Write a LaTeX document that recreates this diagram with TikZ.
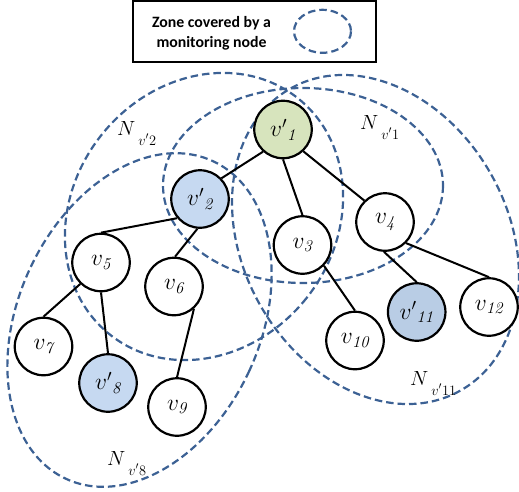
\RequirePackage{fix-cm}
\documentclass[tikz,border=0pt]{standalone}
\usepackage{fontspec}
\newfontfamily\legendfont{Carlito}
\definecolor{zonecol}{RGB}{60,97,148}
\definecolor{greenfill}{RGB}{215,228,189}
\definecolor{bluefill}{RGB}{198,217,241}
\definecolor{bluefilldark}{RGB}{185,205,229}
\begin{document}
\begin{tikzpicture}[x=1pt,y=-1pt,
  vnode/.style={circle,draw,line width=2.2pt,minimum size=57.5pt,inner sep=0pt,fill=white,font=\fontsize{23.5}{27}\selectfont},
  zone/.style={draw=zonecol,line width=2.2pt,dash pattern=on 7.5pt off 4pt},
  edge/.style={line width=2pt},
  zlabel/.style={anchor=base west,inner sep=0pt,font=\fontsize{20.5}{24}\selectfont}]
\useasboundingbox (0,0) rectangle (519,491);
% legend
\node[draw,line width=1.8pt,minimum width=243pt,minimum height=61pt,inner sep=0pt] (legend) at (254.7,31.8) {};
\node[font=\legendfont\bfseries\fontsize{15.8}{19.5}\selectfont,align=center,inner sep=0pt] (legtxt) at (211.5,33.5) {Zone covered by a\\monitoring node};
\draw[zone] (322.5,31.3) ellipse [x radius=28.5, y radius=21.5];
% zones
\draw[zone] (303,185.5) ellipse [x radius=140, y radius=97.5];
\draw[zone, rotate around={-38.5:(204,216.5)}] (204,216.5) ellipse [x radius=131, y radius=151];
\draw[zone, rotate around={-24.8:(139.5,320)}] (139.5,320) ellipse [x radius=121, y radius=175];
\draw[zone, rotate around={29.3:(375.5,239.5)}] (375.5,239.5) ellipse [x radius=132.7, y radius=173.3];
% nodes
\node[vnode,fill=greenfill] (n1) at (283,129.5) {$v'{}_{\mathit{1}}$};
\node[vnode,fill=bluefill] (n2) at (200,199) {$v'{}_{\mathit{2}}$};
\node[vnode] (n3) at (302.5,245) {$v_{\mathit{3}}$};
\node[vnode] (n4) at (385,222) {$v_{\mathit{4}}$};
\node[vnode] (n5) at (101,262.5) {$v_{\mathit{5}}$};
\node[vnode] (n6) at (174,286.5) {$v_{\mathit{6}}$};
\node[vnode] (n7) at (43.5,346.5) {$v_{\mathit{7}}$};
\node[vnode,fill=bluefill] (n8) at (108,383) {$v'{}_{\mathit{8}}$};
\node[vnode] (n9) at (177,407) {$v_{\mathit{9}}$};
\node[vnode] (n10) at (355,340.5) {$v_{\mathit{10}}$};
\node[vnode,fill=bluefilldark] (n11) at (416.7,312) {$v'{}_{\mathit{11}}$};
\node[vnode] (n12) at (489,307) {$v_{\mathit{12}}$};
% edges
\draw[edge] (n1.228) -- (n2.44);
\draw[edge] (n1.south) -- (n3.north);
\draw[edge] (n1.-47) -- (n4.134);
\draw[edge] (n2.220) -- (n5.north);
\draw[edge] (n2.265) -- (n6.88);
\draw[edge] (n4.268) -- (n11.north);
\draw[edge] (n4.-45) -- (n12.north);
\draw[edge] (n3.-44) -- (n10.north);
\draw[edge] (n5.-134) -- (n7.north);
\draw[edge] (n5.south) -- (n8.north);
\draw[edge] (n6.-48) -- (n9.north);
% zone labels
\node[zlabel] (lab2) at (117,135) {$N\kern3pt\lower10pt\hbox{$\scriptstyle v'2$}$};
\node[zlabel] (lab1) at (360,129) {$N\kern3pt\lower10pt\hbox{$\scriptstyle v'1$}$};
\node[zlabel] (lab11) at (410,385) {$N\kern3pt\lower10pt\hbox{$\scriptstyle v'11$}$};
\node[zlabel] (lab8) at (107,465) {$N\kern3pt\lower10pt\hbox{$\scriptstyle v'8$}$};
\end{tikzpicture}
\end{document}
